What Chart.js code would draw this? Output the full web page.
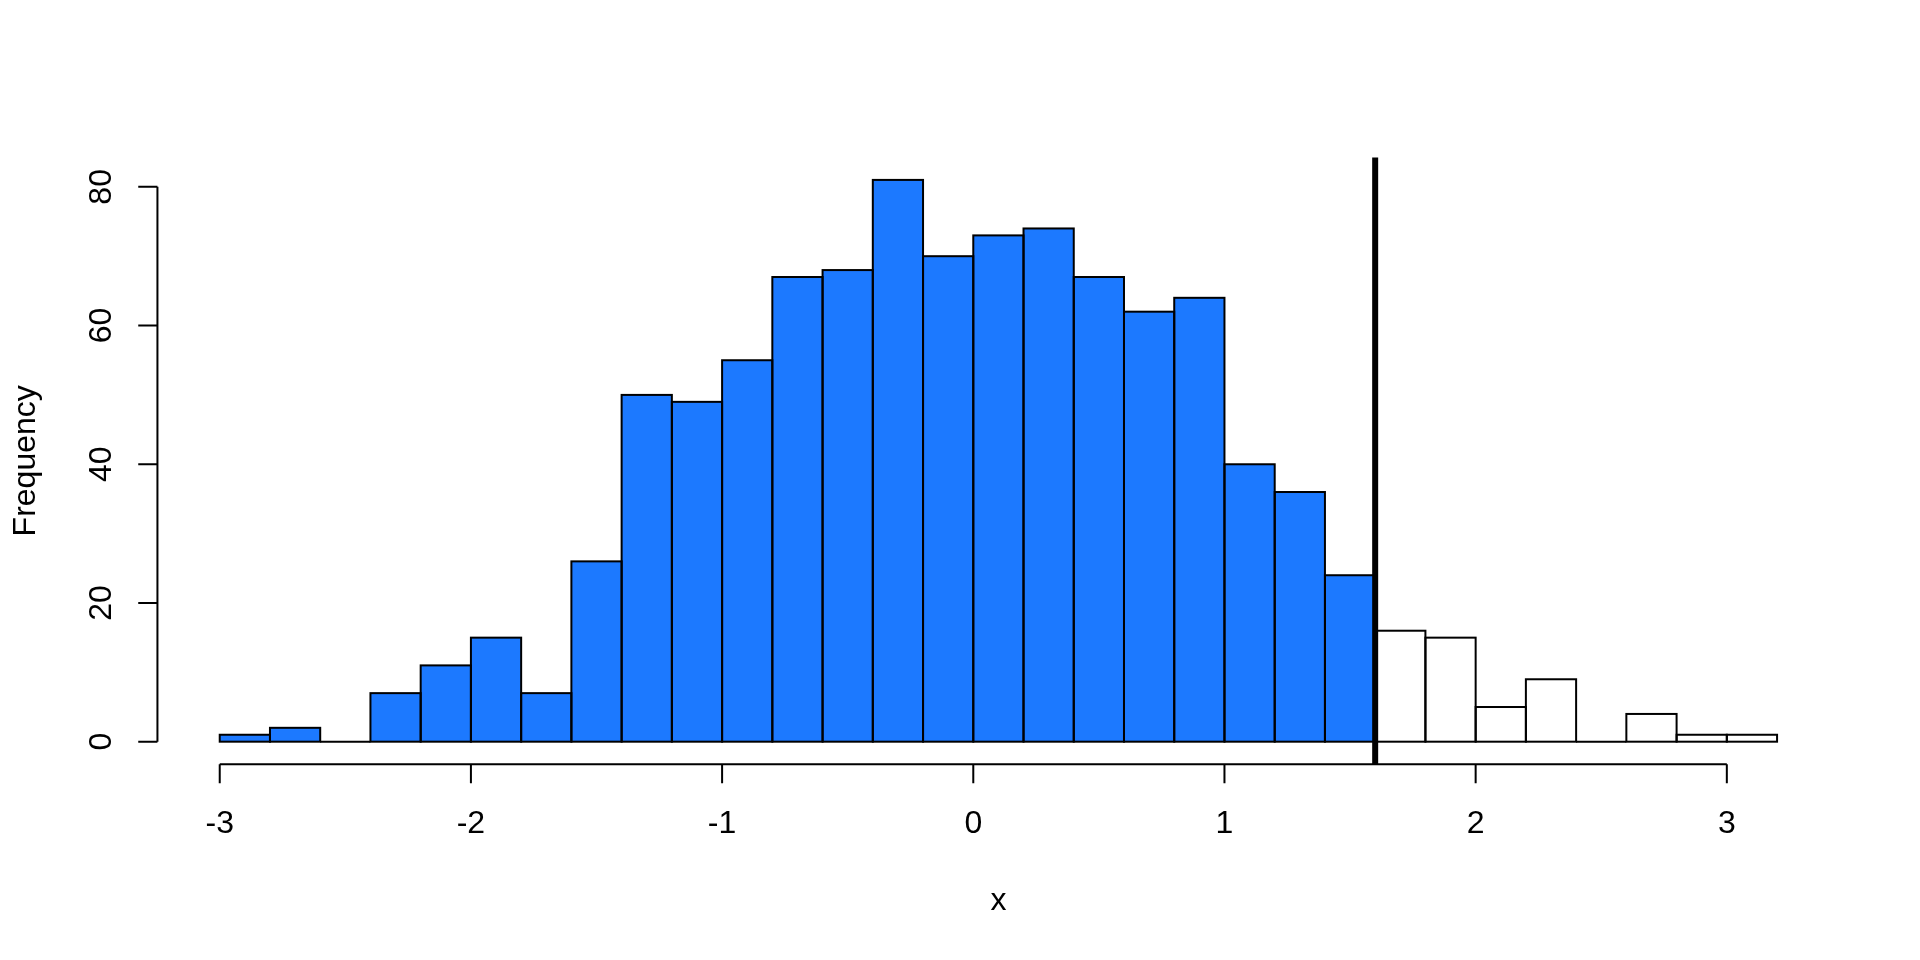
<!DOCTYPE html>
<html>
<head>
<meta charset="utf-8">
<script src="https://cdn.jsdelivr.net/npm/chart.js@4"></script>
<style>
  html, body { margin: 0; padding: 0; background: #ffffff; }
  canvas { display: block; }
</style>
</head>
<body>
<canvas id="chart" width="1920" height="960"></canvas>
<script>
// ---- data ----
const breaks = [-3.0, -2.8, -2.6, -2.4, -2.2, -2.0, -1.8, -1.6, -1.4, -1.2, -1.0,
                -0.8, -0.6, -0.4, -0.2, 0.0, 0.2, 0.4, 0.6, 0.8, 1.0,
                1.2, 1.4, 1.6, 1.8, 2.0, 2.2, 2.4, 2.6, 2.8, 3.0, 3.2];
const counts = [1, 2, 0, 7, 11, 15, 7, 26, 50, 49, 55,
                67, 68, 81, 70, 73, 74, 67, 62, 64, 40,
                36, 24, 16, 15, 5, 9, 0, 4, 1, 1];
const cutoff = 1.6;
const xTicks = [-3, -2, -1, 0, 1, 2, 3];
const yTicks = [0, 20, 40, 60, 80];
const xTitle = "x";
const yTitle = "Frequency";

// ---- style ----
const FILL_BELOW = "#1C79FF";
const FILL_ABOVE = "#FFFFFF";
const FONT = "32px 'Liberation Sans', Arial, sans-serif";
const LINE = 38.4;          // one R margin line in px
const TICK_LEN = 0.5 * LINE;

// R-style axis ranges (4% extension)
const xMin = breaks[0], xMax = breaks[breaks.length - 1];
const xPad = (xMax - xMin) * 0.04;
const yMaxData = Math.max(...counts);
const yPad = yMaxData * 0.04;

const points = counts.map((c, i) => ({ x: (breaks[i] + breaks[i + 1]) / 2, y: c }));
const colors = counts.map((c, i) => breaks[i] < cutoff ? FILL_BELOW : FILL_ABOVE);

const rPlot = {
  id: 'rPlot',
  afterDatasetsDraw(chart) {
    const ctx = chart.ctx;
    const meta = chart.getDatasetMeta(0);
    ctx.save();
    ctx.strokeStyle = '#000';
    ctx.lineWidth = 2;
    meta.data.forEach(el => {
      const p = el.getProps(['x', 'y', 'base', 'width'], true);
      ctx.strokeRect(p.x - p.width / 2, Math.min(p.y, p.base), p.width, Math.abs(p.base - p.y));
    });
    ctx.restore();
  },
  afterDraw(chart) {
    const ctx = chart.ctx;
    const xs = chart.scales.x, ys = chart.scales.y;
    const area = chart.chartArea;
    ctx.save();
    // cutoff line
    ctx.strokeStyle = '#000';
    ctx.lineWidth = 6;
    ctx.lineCap = 'butt';
    const cx = xs.getPixelForValue(cutoff);
    ctx.beginPath();
    ctx.moveTo(cx, area.top);
    ctx.lineTo(cx, area.bottom);
    ctx.stroke();

    ctx.lineWidth = 2;
    ctx.fillStyle = '#000';
    ctx.font = FONT;
    // x axis
    const ay = area.bottom;
    ctx.beginPath();
    ctx.moveTo(xs.getPixelForValue(xTicks[0]), ay);
    ctx.lineTo(xs.getPixelForValue(xTicks[xTicks.length - 1]), ay);
    xTicks.forEach(t => {
      const px = xs.getPixelForValue(t);
      ctx.moveTo(px, ay);
      ctx.lineTo(px, ay + TICK_LEN);
    });
    ctx.stroke();
    ctx.textAlign = 'center';
    ctx.textBaseline = 'alphabetic';
    xTicks.forEach(t => {
      ctx.fillText(String(t), xs.getPixelForValue(t), ay + 1.8 * LINE);
    });
    ctx.fillText(xTitle, (area.left + area.right) / 2, ay + 3.8 * LINE);

    // y axis
    const ax = area.left;
    ctx.beginPath();
    ctx.moveTo(ax, ys.getPixelForValue(yTicks[0]));
    ctx.lineTo(ax, ys.getPixelForValue(yTicks[yTicks.length - 1]));
    yTicks.forEach(t => {
      const py = ys.getPixelForValue(t);
      ctx.moveTo(ax, py);
      ctx.lineTo(ax - TICK_LEN, py);
    });
    ctx.stroke();
    yTicks.forEach(t => {
      ctx.save();
      ctx.translate(ax - 1.2 * LINE, ys.getPixelForValue(t));
      ctx.rotate(-Math.PI / 2);
      ctx.fillText(String(t), 0, 0);
      ctx.restore();
    });
    ctx.save();
    ctx.translate(ax - 3.2 * LINE, (area.top + area.bottom) / 2);
    ctx.rotate(-Math.PI / 2);
    ctx.fillText(yTitle, 0, 0);
    ctx.restore();
    ctx.restore();
  }
};

new Chart(document.getElementById('chart'), {
  type: 'bar',
  data: {
    datasets: [{
      data: points,
      backgroundColor: colors,
      borderWidth: 0,
      inflateAmount: 0,
      barPercentage: 1,
      categoryPercentage: 1
    }]
  },
  options: {
    responsive: false,
    devicePixelRatio: 1,
    animation: false,
    events: [],
    layout: { padding: { left: 4.1 * LINE, right: 2.1 * LINE, top: 4.1 * LINE, bottom: 5.1 * LINE } },
    plugins: { legend: { display: false }, tooltip: { enabled: false }, title: { display: false } },
    scales: {
      x: { type: 'linear', display: false, offset: false, min: xMin - xPad, max: xMax + xPad,
           ticks: { stepSize: 1 }, grid: { display: false } },
      y: { type: 'linear', display: false, min: -yPad, max: yMaxData + yPad,
           ticks: { stepSize: 20 }, grid: { display: false } }
    }
  },
  plugins: [rPlot]
});
</script>
</body>
</html>
